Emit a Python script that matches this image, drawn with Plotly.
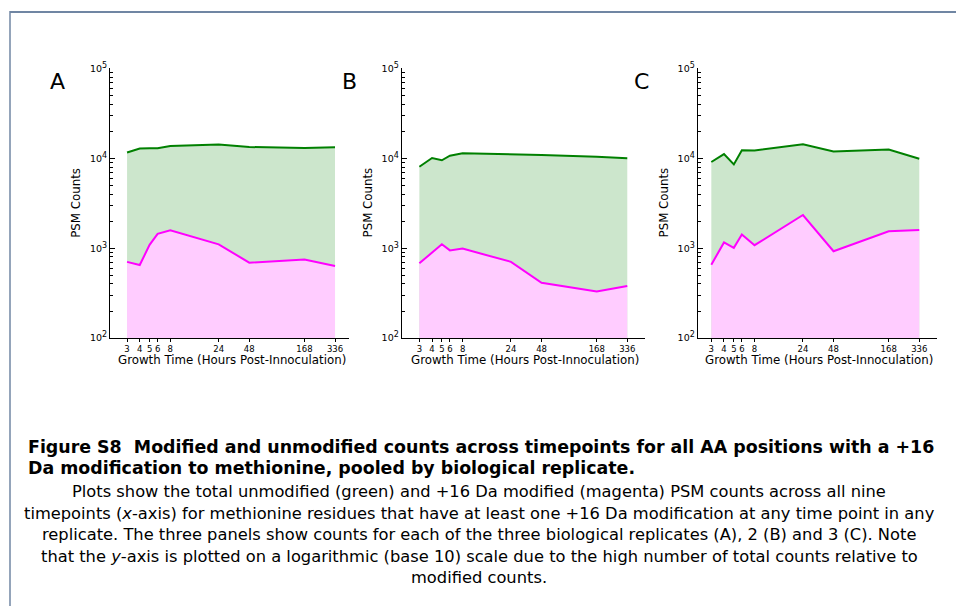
import plotly.graph_objects as go

# Timepoints (hours post-inoculation) and tick labels
hours = [3, 4, 5, 6, 8, 24, 48, 168, 336]
hour_labels = ["3", "4", "5", "6", "8", "24", "48", "168", "336"]

# Unmodified (total) and +16 Da modified PSM counts per biological replicate
unmod_A = [11600, 12850, 12900, 12950, 13700, 14200, 13350, 13050, 13250]
mod_A = [705, 650, 1090, 1445, 1585, 1105, 690, 750, 635]
unmod_B = [8050, 10080, 9500, 10700, 11350, 11150, 10870, 10430, 10000]
mod_B = [680, 900, 1105, 945, 990, 705, 413, 330, 380]
unmod_C = [9100, 11150, 8550, 12300, 12200, 14300, 11900, 12500, 9900]
mod_C = [655, 1160, 1010, 1420, 1080, 2340, 925, 1540, 1595]

panel_letters = ["A", "B", "C"]
y_floor = 100

W, H = 956, 611


def px_x(p):
    return p / W


def px_y(p):
    return 1 - p / H


GREEN = "rgb(0,128,0)"
GREEN_FILL = "rgb(204,230,204)"
MAGENTA = "rgb(255,0,255)"
MAGENTA_FILL = "rgb(255,204,255)"
TICK_FONT = dict(family="DejaVu Sans", size=8.5, color="black")
AXIS_TITLE_FONT = dict(family="DejaVu Sans", size=11.8, color="black")

panels = [
    (unmod_A, mod_A, (110, 349), (0.309, 2.664)),
    (unmod_B, mod_B, (401.7, 645), (0.303, 2.701)),
    (unmod_C, mod_C, (697.7, 937), (0.343, 2.701)),
]

fig = go.Figure()
layout = dict(
    width=W, height=H,
    margin=dict(l=0, r=0, t=0, b=0),
    paper_bgcolor="white", plot_bgcolor="white",
    showlegend=False,
)

minor_vals = [m * 10 ** e for e in range(2, 5) for m in range(2, 10)]
decade_labels = ["10<sup><span style='font-size:8px'>%d</span></sup>" % e for e in range(2, 6)]
annotations = []

for i, (unmod, mod, (x0, x1), xr) in enumerate(panels):
    suffix = "" if i == 0 else str(i + 1)
    xa, ya = "x" + suffix, "y" + suffix
    base = [y_floor] * len(hours)
    fig.add_trace(go.Scatter(x=hours, y=base, mode="lines", line=dict(width=0),
                             xaxis=xa, yaxis=ya, hoverinfo="skip"))
    fig.add_trace(go.Scatter(x=hours, y=unmod, mode="lines", fill="tonexty",
                             fillcolor=GREEN_FILL, line=dict(color=GREEN, width=2),
                             xaxis=xa, yaxis=ya))
    fig.add_trace(go.Scatter(x=hours, y=base, mode="lines", line=dict(width=0),
                             xaxis=xa, yaxis=ya, hoverinfo="skip"))
    fig.add_trace(go.Scatter(x=hours, y=mod, mode="lines", fill="tonexty",
                             fillcolor=MAGENTA_FILL, line=dict(color=MAGENTA, width=2),
                             xaxis=xa, yaxis=ya))

    layout["xaxis" + suffix] = dict(
        type="log", range=list(xr), domain=[px_x(x0), px_x(x1)], anchor=ya,
        tickmode="array", tickvals=hours, ticktext=hour_labels,
        ticks="outside", ticklen=3, tickcolor="black", tickwidth=1,
        showline=True, linecolor="black", linewidth=1,
        showgrid=False, zeroline=False, tickfont=TICK_FONT,
    )
    layout["yaxis" + suffix] = dict(
        type="log", range=[2, 5], domain=[px_y(337.3), px_y(61.7)], anchor=xa,
        tickmode="array", tickvals=[1e2, 1e3, 1e4, 1e5], ticktext=decade_labels,
        ticks="inside", ticklen=5, tickcolor="black", tickwidth=1,
        minor=dict(tickmode="array", tickvals=minor_vals, ticks="inside",
                   ticklen=3, tickcolor="black", showgrid=False),
        showline=True, linecolor="black", linewidth=1,
        showgrid=False, zeroline=False,
        tickfont=dict(family="DejaVu Sans", size=9.5, color="black"),
    )

    # axis titles and panel letter
    annotations.append(dict(
        text="Growth Time (Hours Post-Innoculation)", xref="paper", yref="paper",
        x=px_x((x0 + x1) / 2 + 2), y=px_y(360), showarrow=False,
        font=AXIS_TITLE_FONT, xanchor="center", yanchor="middle"))
    annotations.append(dict(
        text="PSM Counts", xref="paper", yref="paper", textangle=-90,
        x=px_x(x0 - 34), y=px_y(199), showarrow=False,
        font=AXIS_TITLE_FONT, xanchor="center", yanchor="middle"))
    annotations.append(dict(
        text=panel_letters[i], xref="paper", yref="paper",
        x=px_x(57 + 292 * i), y=px_y(75), showarrow=False,
        font=dict(family="DejaVu Sans", size=22, color="black"),
        xanchor="center", yanchor="middle"))

# Caption
title_lines = [
    "Figure S8  Modified and unmodified counts across timepoints for all AA positions with a +16",
    "Da modification to methionine, pooled by biological replicate.",
]
title_y = [449, 470]
for line, yy in zip(title_lines, title_y):
    annotations.append(dict(
        text="<b>" + line + "</b>", xref="paper", yref="paper",
        x=px_x(26), y=px_y(yy), showarrow=False, xanchor="left", yanchor="middle",
        font=dict(family="DejaVu Sans", size=17.4, color="black")))

body_lines = [
    "Plots show the total unmodified (green) and +16 Da modified (magenta) PSM counts across all nine",
    "timepoints (<i>x</i>-axis) for methionine residues that have at least one +16 Da modification at any time point in any",
    "replicate. The three panels show counts for each of the three biological replicates (A), 2 (B) and 3 (C). Note",
    "that the <i>y</i>-axis is plotted on a logarithmic (base 10) scale due to the high number of total counts relative to",
    "modified counts.",
]
body_y = [494, 516, 538, 560, 582]
for line, yy in zip(body_lines, body_y):
    annotations.append(dict(
        text=line, xref="paper", yref="paper",
        x=px_x(479), y=px_y(yy), showarrow=False, xanchor="center", yanchor="middle",
        font=dict(family="DejaVu Sans", size=16.3, color="black")))

layout["annotations"] = annotations

# Page frame
layout["shapes"] = [
    dict(type="line", xref="paper", yref="paper", x0=px_x(10), x1=1,
         y0=px_y(4), y1=px_y(4), line=dict(color="rgb(112,134,163)", width=2)),
    dict(type="line", xref="paper", yref="paper", x0=px_x(10), x1=px_x(10),
         y0=px_y(3), y1=0, line=dict(color="rgb(112,134,163)", width=1.5)),
]

fig.update_layout(**layout)
fig.write_html("out.html")
